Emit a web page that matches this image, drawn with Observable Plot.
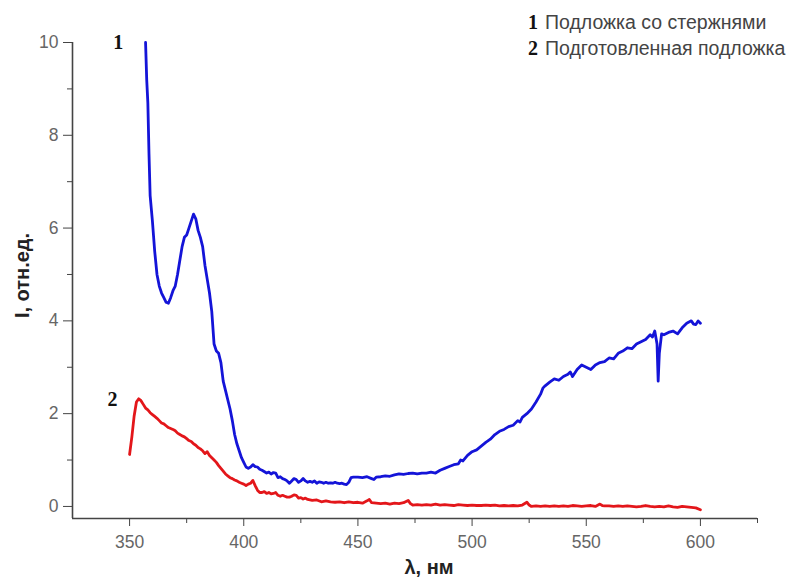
<!DOCTYPE html>
<html><head><meta charset="utf-8">
<script src="https://cdn.jsdelivr.net/npm/d3@7"></script>
<script src="https://cdn.jsdelivr.net/npm/@observablehq/plot@0.6"></script>
<style>
body{margin:0;background:#fff;}
#wrap{position:relative;width:803px;height:585px;}
.leg{position:absolute;font-family:"Liberation Sans",Arial,sans-serif;font-size:19.5px;line-height:22px;color:#444;white-space:nowrap;}
.leg b{font-family:"Liberation Serif","Times New Roman",serif;font-size:20px;color:#111;margin-right:7px;}
</style></head>
<body><div id="wrap"></div>
<script>
const seriesNames = ["Подложка со стержнями", "Подготовленная подложка"];
const xMajor = [350, 400, 450, 500, 550, 600];
const xMinor = [375, 425, 475, 525, 575, 625];
const yMajor = [0, 2, 4, 6, 8, 10];
const yMinor = [1, 3, 5, 7, 9];

const lam1 = [357,357.5,358,358.5,359,360,361,362,363,364,365,366,367,368,369,370,371,372,373,374,375,376,377,378,379,380,381,382,383,384,385,386,387,388,389,390,391,392,393,394,395,396,397,398,399,400,401,402,403,404,405,406,407,408,410,411,412,413,414,415,416,417,418,419,420,421,422,423,424,425,426,427,428,429,430,431,432,433,434,435,436,437,438,439,440,441,442,443,444,445,446,447,448,450,452,454,456,457,458,460,462,464,466,468,470,472,474,476,478,480,482,484,486,488,490,492,494,495,496,498,500,502,504,506,508,510,512,514,516,518,520,521,522,524,526,528,530,531,532,534,536,538,540,542,543,544,546,548,550,552,554,556,558,560,562,564,566,568,570,572,574,576,578,579,580,581,581.5,582,583,584,586,588,590,592,594,596,597,598,599,600];
const int1 = [10,9.2,8.7,7.6,6.7,6.15,5.5,5.0,4.75,4.6,4.5,4.4,4.38,4.5,4.65,4.75,5.0,5.3,5.6,5.8,5.85,6.0,6.15,6.3,6.2,5.95,5.8,5.6,5.2,4.9,4.6,4.2,3.5,3.35,3.3,3.1,2.7,2.5,2.3,2.1,1.85,1.55,1.35,1.2,1.05,0.95,0.85,0.82,0.85,0.9,0.86,0.85,0.8,0.78,0.72,0.74,0.7,0.73,0.72,0.62,0.64,0.6,0.58,0.55,0.5,0.55,0.6,0.58,0.52,0.55,0.6,0.55,0.52,0.54,0.52,0.55,0.5,0.53,0.52,0.5,0.52,0.5,0.51,0.5,0.52,0.5,0.49,0.5,0.48,0.47,0.52,0.62,0.63,0.63,0.62,0.64,0.6,0.58,0.63,0.64,0.66,0.65,0.68,0.7,0.69,0.71,0.72,0.7,0.72,0.72,0.74,0.72,0.78,0.82,0.86,0.9,0.92,1.0,0.98,1.1,1.18,1.22,1.3,1.38,1.45,1.55,1.62,1.66,1.72,1.75,1.85,1.82,1.92,2.0,2.1,2.25,2.42,2.55,2.6,2.68,2.75,2.72,2.8,2.85,2.9,2.8,2.95,3.05,3.0,2.95,3.05,3.1,3.12,3.2,3.18,3.3,3.35,3.42,3.4,3.5,3.55,3.6,3.7,3.65,3.78,3.5,2.7,3.3,3.72,3.7,3.75,3.78,3.72,3.85,3.95,4.0,3.93,3.92,4.0,3.95];

const lam2 = [350,351,352,353,354,355,356,357,358,359,360,361,362,363,364,365,366,367,368,369,370,371,372,373,374,375,376,377,378,379,380,381,382,383,384,385,386,387,388,389,390,391,392,393,394,395,396,397,398,399,400,401,402,403,404,405,406,407,408,409,410,411,412,413,414,415,416,417,418,419,420,421,422,423,424,425,426,427,428,430,432,434,436,438,440,442,444,446,448,450,452,454,455,456,458,460,462,464,466,468,470,472,473,474,476,478,480,482,484,486,488,490,492,494,496,498,500,502,504,506,508,510,512,514,516,518,520,522,524,525,526,528,530,532,534,536,538,540,542,544,546,548,550,552,554,556,557,558,560,562,564,566,568,570,572,574,576,578,580,582,584,586,588,590,592,594,596,598,600];
const int2 = [1.12,1.5,1.95,2.25,2.32,2.28,2.2,2.12,2.08,2.02,1.98,1.94,1.9,1.85,1.8,1.78,1.74,1.7,1.68,1.66,1.63,1.58,1.55,1.52,1.5,1.46,1.42,1.4,1.35,1.32,1.27,1.24,1.2,1.14,1.18,1.1,1.05,1.0,0.95,0.88,0.82,0.76,0.7,0.66,0.62,0.6,0.57,0.55,0.52,0.5,0.48,0.45,0.48,0.5,0.56,0.45,0.35,0.3,0.3,0.32,0.28,0.3,0.27,0.28,0.3,0.24,0.22,0.24,0.22,0.2,0.2,0.22,0.25,0.24,0.18,0.19,0.16,0.18,0.15,0.13,0.14,0.1,0.12,0.1,0.09,0.1,0.08,0.1,0.08,0.09,0.07,0.12,0.15,0.08,0.07,0.06,0.07,0.05,0.07,0.06,0.08,0.13,0.06,0.03,0.04,0.03,0.04,0.03,0.05,0.03,0.04,0.03,0.02,0.04,0.03,0.02,0.03,0.02,0.02,0.03,0.02,0.03,0.01,0.02,0.01,0.02,0.01,0.03,0.09,0.03,0.0,0.01,0.0,0.01,0.0,0.01,0.0,0.01,0.0,0.02,0.01,0.0,0.01,0.02,0.0,0.05,0.02,0.01,0.01,0.0,0.01,0.0,0.01,0.0,-0.01,0.0,0.02,0.0,-0.01,0.0,-0.01,0.01,-0.01,-0.02,0.0,-0.01,-0.02,-0.03,-0.07];

const curve1 = lam1.map((x, i) => ({x, y: int1[i]}));
const curve2 = lam2.map((x, i) => ({x, y: int2[i]}));
const curveLabels = [{x: 345, y: 10, t: "1"}, {x: 342.5, y: 2.3, t: "2"}];

const xDom = [325, 625], yDom = [-0.26, 10];
const axisCol = "#444", labCol = "#666";

const chart = Plot.plot({
  width: 803, height: 585,
  marginLeft: 72, marginRight: 46, marginTop: 42, marginBottom: 67,
  x: {domain: xDom},
  y: {domain: yDom},
  style: {fontFamily: "Liberation Sans, Arial, sans-serif", background: "#fff"},
  marks: [
    Plot.ruleY([yDom[0]], {stroke: axisCol, strokeWidth: 1.6}),
    Plot.ruleX([xDom[0]], {y1: yDom[0], y2: 10, stroke: axisCol, strokeWidth: 1.6}),
    Plot.axisX({ticks: xMajor, tickSize: 8, tickPadding: 9, stroke: axisCol, fill: labCol, fontSize: 17.5, label: null, tickFormat: d => String(d)}),
    Plot.axisX({ticks: xMinor, tickSize: 5, stroke: axisCol, text: null, label: null}),
    Plot.axisY({ticks: yMajor, tickSize: 9, tickPadding: 5, stroke: axisCol, fill: labCol, fontSize: 17.5, label: null, tickFormat: d => String(d)}),
    Plot.axisY({ticks: yMinor, tickSize: 5, stroke: axisCol, text: null, label: null}),
    Plot.line(curve2, {x: "x", y: "y", stroke: "#e3161a", strokeWidth: 2.8, curve: "linear"}),
    Plot.line(curve1, {x: "x", y: "y", stroke: "#1414d8", strokeWidth: 2.8, curve: "linear"}),
    Plot.text(curveLabels, {x: "x", y: "y", text: "t", fontFamily: "Liberation Serif, Times New Roman, serif", fontWeight: "bold", fontSize: 20, fill: "#111"}),
    Plot.text(["λ, нм"], {frameAnchor: "bottom", dy: 55, dx: 14, fontWeight: "bold", fontSize: 20, fill: "#222"}),
    Plot.text(["I, отн.ед."], {frameAnchor: "left", textAnchor: "middle", dx: -50, dy: -5, rotate: -90, fontWeight: "bold", fontSize: 20, fill: "#222"})
  ]
});
const wrap = document.getElementById("wrap");
wrap.appendChild(chart);
seriesNames.forEach((name, i) => {
  const d = document.createElement("div");
  d.className = "leg";
  d.style.left = "528px";
  d.style.top = (11 + i * 26) + "px";
  d.innerHTML = "<b>" + (i + 1) + "</b>" + name;
  wrap.appendChild(d);
});
</script></body></html>
